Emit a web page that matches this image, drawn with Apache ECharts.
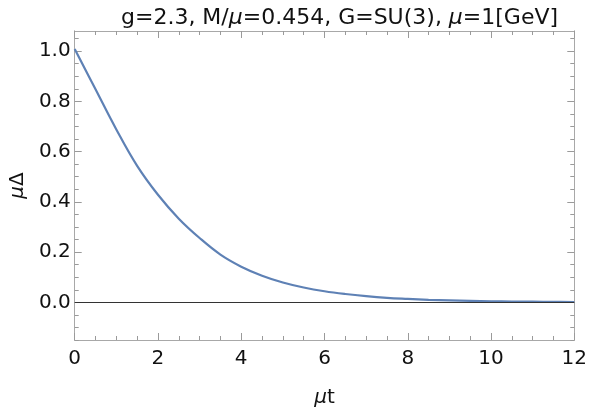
<!DOCTYPE html>
<html>
<head>
<meta charset="utf-8">
<script src="https://cdn.jsdelivr.net/npm/echarts@6/dist/echarts.min.js"></script>
<style>
  html, body { margin: 0; padding: 0; background: #fff; }
  #chart { width: 590px; height: 419px; }
</style>
</head>
<body>
<div id="chart"></div>
<script>
// mu*t values and mu*Delta
var tValues = [0, 0.5, 1, 1.5, 2, 2.5, 3, 3.5, 4, 4.5, 5, 5.5, 6, 6.5, 7, 7.5, 8, 8.5, 9, 9.5, 10, 10.5, 11, 11.5, 12];
var deltaValues = [1.008, 0.848, 0.688, 0.543, 0.428, 0.333, 0.256, 0.19, 0.142, 0.106, 0.079, 0.059, 0.044, 0.033, 0.0245, 0.018, 0.0137, 0.01, 0.0076, 0.0057, 0.0042, 0.0032, 0.0024, 0.0018, 0.0013];

var xTicks = [0, 2, 4, 6, 8, 10, 12];
var yTicks = [0, 0.2, 0.4, 0.6, 0.8, 1.0];
var yMinorTicks = [-0.15, -0.1, -0.05, 0.05, 0.1, 0.15, 0.25, 0.3, 0.35, 0.45, 0.5, 0.55, 0.65, 0.7, 0.75, 0.85, 0.9, 0.95, 1.05];

var curve = tValues.map(function (t, i) { return [t, deltaValues[i]]; });

var frameColor = '#a8a8a8';
var tickColor = '#9a9a9a';
var font = 'DejaVu Sans';

var myChart = echarts.init(document.getElementById('chart'));

function yAx(pos, ticks, len, labels) {
    return {
        type: 'value',
        position: pos,
        min: -0.15,
        max: 1.08,
        axisLine: { show: true, lineStyle: { color: frameColor, width: 1 } },
        axisTick: { show: true, inside: true, length: len, customValues: ticks, lineStyle: { color: tickColor } },
        axisLabel: labels ? {
            show: true, customValues: yTicks, margin: 4, color: '#111', fontSize: 20, fontFamily: font,
            formatter: function (v) { return v.toFixed(1); }
        } : { show: false },
        splitLine: { show: false }
    };
}

function xAx(pos, labels) {
    return {
        type: 'value',
        position: pos,
        min: 0,
        max: 12,
        interval: 2,
        axisLine: { show: true, onZero: false, lineStyle: { color: frameColor, width: 1 } },
        axisTick: { show: true, inside: true, length: 7, lineStyle: { color: tickColor } },
        minorTick: { show: true, splitNumber: 4, length: 4, lineStyle: { color: tickColor } },
        axisLabel: { show: labels, margin: 9, color: '#111', fontSize: 20, fontFamily: font },
        splitLine: { show: false }
    };
}

var xBottom = xAx('bottom', true);
xBottom.name = '{i|μ}t';
xBottom.nameLocation = 'middle';
xBottom.nameGap = 48;
xBottom.nameTextStyle = {
    color: '#111', fontSize: 20, fontFamily: font,
    rich: { i: { fontStyle: 'italic', fontSize: 20, fontFamily: font, color: '#111' } }
};

var yLeft = yAx('left', yTicks, 7, true);
yLeft.name = '{i|μ}Δ';
yLeft.nameLocation = 'middle';
yLeft.nameRotate = 90;
yLeft.nameGap = 46;
yLeft.nameTextStyle = {
    color: '#111', fontSize: 20, fontFamily: font,
    rich: { i: { fontStyle: 'italic', fontSize: 20, fontFamily: font, color: '#111' } }
};

var option = {
    backgroundColor: '#fff',
    animation: false,
    title: {
        text: 'g=2.3, M/{i|μ}=0.454, G=SU(3), {i|μ}=1[GeV]',
        left: 116,
        top: 2,
        textStyle: {
            color: '#111', fontSize: 22, fontWeight: 'normal', fontFamily: font,
            rich: { i: { fontStyle: 'italic', fontSize: 22, fontFamily: font, color: '#111' } }
        }
    },
    grid: { left: 74, right: 15, top: 31, bottom: 79, containLabel: false },
    xAxis: [xBottom, xAx('top', false)],
    yAxis: [
        yLeft,
        yAx('left', yMinorTicks, 4, false),
        yAx('right', yTicks, 7, false),
        yAx('right', yMinorTicks, 4, false)
    ],
    series: [
        {
            type: 'line',
            xAxisIndex: 0,
            yAxisIndex: 0,
            data: curve,
            smooth: 0.4,
            showSymbol: false,
            lineStyle: { color: '#5e81b5', width: 2.2 },
            markLine: {
                silent: true,
                symbol: 'none',
                label: { show: false },
                lineStyle: { color: '#333', width: 1, type: 'solid' },
                data: [{ yAxis: 0 }]
            },
            z: 3
        }
    ]
};

myChart.setOption(option);
</script>
</body>
</html>
